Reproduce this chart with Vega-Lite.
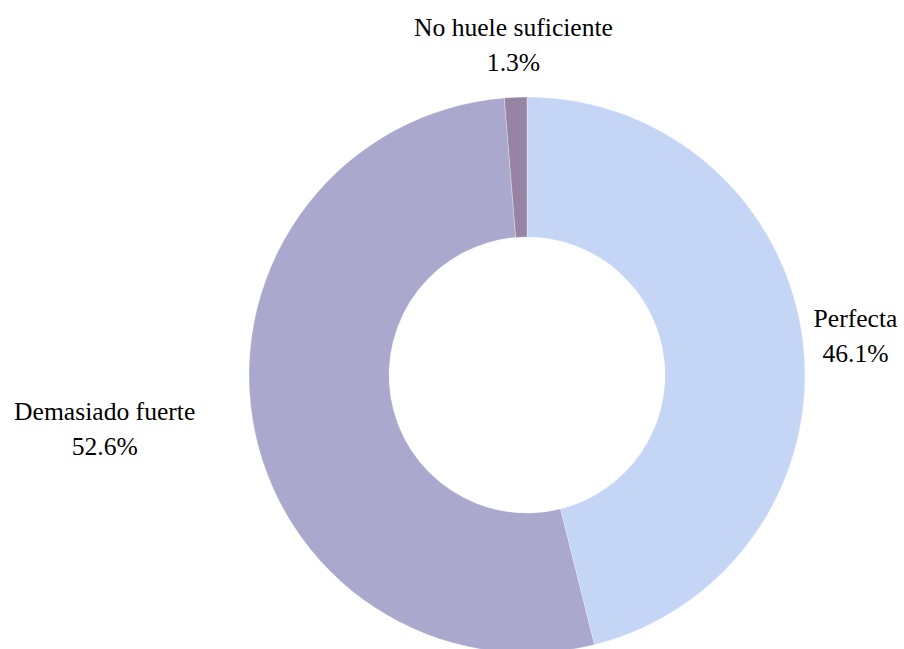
{
  "$schema": "https://vega.github.io/schema/vega-lite/v6.json",
  "autosize": "none",
  "width": 754,
  "height": 548,
  "padding": {"left": 150, "top": 101, "right": 0, "bottom": 0},
  "background": "white",
  "view": {"stroke": null},
  "config": {"font": "Liberation Serif", "text": {"font": "Liberation Serif"}},
  "data": {
    "values": [
      {"label": "Perfecta", "value": 46.1, "o": 1},
      {"label": "Demasiado fuerte", "value": 52.6, "o": 2},
      {"label": "No huele suficiente", "value": 1.3, "o": 3}
    ]
  },
  "transform": [
    {"calculate": "datum.label + '\\n' + format(datum.value, '.1f') + '%'", "as": "txt"}
  ],
  "encoding": {
    "theta": {"field": "value", "type": "quantitative", "stack": true},
    "order": {"field": "o", "type": "quantitative"}
  },
  "layer": [
    {
      "mark": {"type": "arc", "outerRadius": 278, "innerRadius": 138, "stroke": "white", "strokeWidth": 0.3},
      "encoding": {
        "color": {
          "field": "label",
          "type": "nominal",
          "scale": {
            "domain": ["Perfecta", "Demasiado fuerte", "No huele suficiente"],
            "range": ["#c5d5f6", "#aaa9cd", "#9584a3"]
          },
          "legend": null
        }
      }
    },
    {
      "mark": {"type": "text", "font": "Liberation Serif", "radius": 331, "dy": -16, "fontSize": 25.6, "lineBreak": "\n", "lineHeight": 35, "align": "center", "baseline": "middle", "color": "black"},
      "encoding": {
        "text": {"condition": {"test": "datum.label !== 'Demasiado fuerte'", "field": "txt"}, "value": ""}
      }
    },
    {
      "mark": {"type": "text", "font": "Liberation Serif", "radius": 428, "dy": -33, "fontSize": 25.6, "lineBreak": "\n", "lineHeight": 35, "align": "center", "baseline": "middle", "color": "black"},
      "encoding": {
        "text": {"condition": {"test": "datum.label === 'Demasiado fuerte'", "field": "txt"}, "value": ""}
      }
    }
  ]
}
